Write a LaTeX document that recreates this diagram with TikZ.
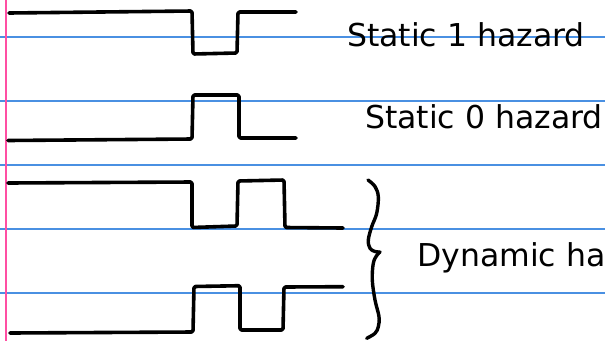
\documentclass[tikz,border=0pt]{standalone}
\usepackage{fontspec}
\setmainfont{DejaVu Sans}
\definecolor{ruleblue}{HTML}{4A90E2}
\definecolor{marginpink}{HTML}{FF4FA3}
\begin{document}
\begin{tikzpicture}[x=1pt,y=-1pt,
  rule/.style={ruleblue,line width=1.3pt},
  margin/.style={marginpink,line width=2pt},
  wave/.style={black,line width=3.6pt,line cap=round,line join=round,rounded corners=1.5pt},
  bracecurve/.style={black,line width=3.4pt,line cap=round,line join=round},
  label/.style={anchor=base west,inner sep=0pt,font=\fontsize{31.5}{36}\selectfont}]
\clip (0,0) rectangle (605,341);
\fill[white] (0,0) rectangle (605,341);
% ruled paper
\foreach \y in {37,101,165,229,293} \draw[rule] (0,\y) -- (605,\y);
\draw[margin] (6,0) -- (6,341);
% static 1 hazard: a short dip in a high signal
\draw[wave] (9,13) -- (192,11) -- (193,54) -- (237,53) -- (238,12) -- (296,12);
% static 0 hazard: a short spike in a low signal
\draw[wave] (8,140.5) -- (192,139) -- (193,95) -- (239,95) -- (239,138) -- (296,138);
% dynamic hazards: extra transitions on the way
\draw[wave] (8,183) -- (192,182) -- (192,227.5) -- (237,226) -- (238,181) -- (284,180) -- (285,227.5) -- (343,228);
\draw[wave] (10,333) -- (193,332) -- (194,286.5) -- (240,285.7) -- (240,330) -- (283,330) -- (284,287) -- (343,286.7);
% hand-drawn curly brace
\coordinate (braceTip) at (380,252);
\draw[bracecurve] plot[smooth,tension=0.6] coordinates {(368,180) (375,186.5) (378.3,196.7) (376.7,213.3) (371.7,226.7) (368.3,240) (370,248.3) (375,251.5) (380,252)};
\draw[bracecurve] plot[smooth,tension=0.6] coordinates {(380,252) (376.7,255.5) (373.3,263.3) (372.3,280) (375,300) (379,316.7) (378.3,326.7) (375,333.3) (366.7,338.3)};
% labels
\node[label] (s1) at (347,46.5) {Static 1 hazard};
\node[label] (s0) at (365,128) {Static 0 hazard};
\node[label] (dyn) at (417,266) {Dynamic hazard};
\end{tikzpicture}
\end{document}
